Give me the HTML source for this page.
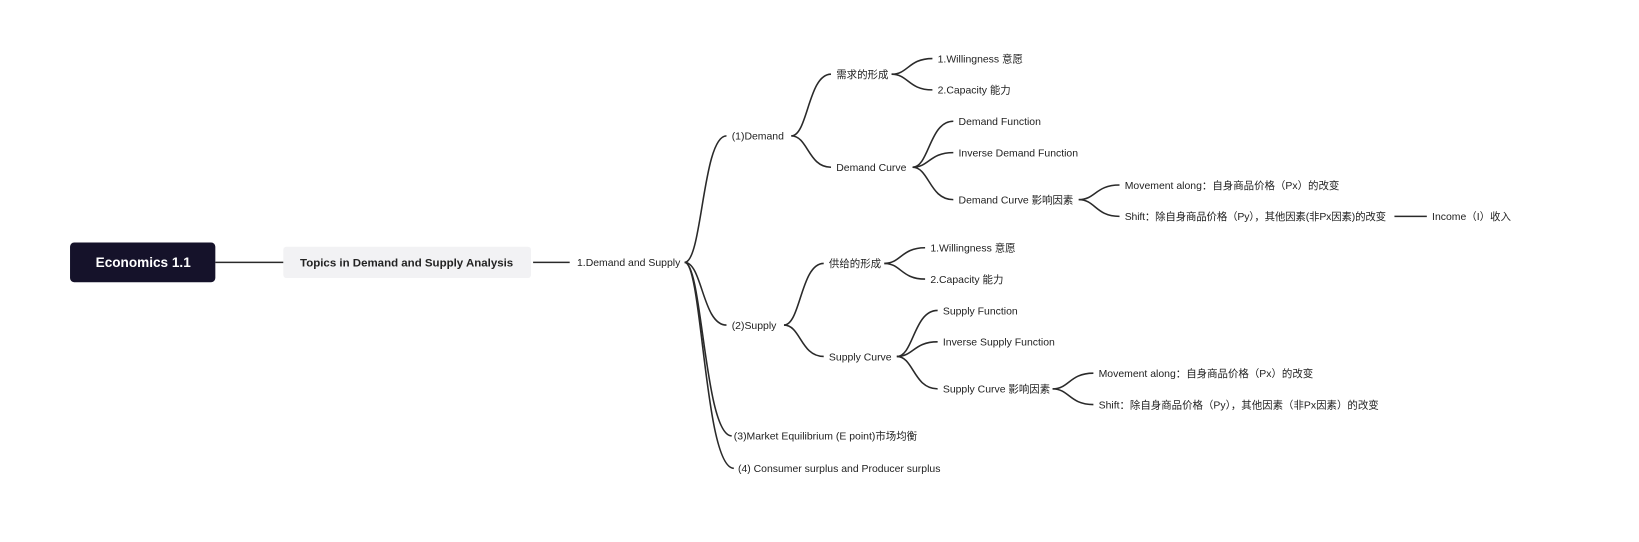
<!DOCTYPE html>
<html><head><meta charset="utf-8"><style>
html,body{margin:0;padding:0;background:#fff;}
svg text{font-family:"Liberation Sans","Noto Sans CJK SC",sans-serif;font-size:10px;fill:#222;dominant-baseline:middle;}
</style></head><body>
<svg width="1639" height="537" viewBox="0 0 1639 537" xmlns="http://www.w3.org/2000/svg">
<g transform="scale(1.0453)">
<g fill="none" stroke="#2a2a2a" stroke-width="1.5">
<line x1="206" y1="251" x2="272" y2="251"/>
<line x1="510" y1="251" x2="545" y2="251"/>
<line x1="1334" y1="207" x2="1365" y2="207"/>
<path d="M655 251 C672 251 672 130 695 130"/>
<path d="M655 251 C672 251 672 311 695 311"/>
<path d="M655 251 C672 251 674 417 700 417"/>
<path d="M655 251 C672 251 674 448 702 448"/>
<path d="M757 130 C773 130 773 71 795 71"/>
<path d="M757 130 C773 130 773 160 795 160"/>
<path d="M853 71 C869 71 869 56 892 56"/>
<path d="M853 71 C869 71 869 86 892 86"/>
<path d="M873 160 C889 160 889 116 912 116"/>
<path d="M873 160 C889 160 889 146 912 146"/>
<path d="M873 160 C889 160 889 191 912 191"/>
<path d="M1032 191 C1048 191 1048 177 1071 177"/>
<path d="M1032 191 C1048 191 1048 207 1071 207"/>
<path d="M750 311 C766 311 766 252 788 252"/>
<path d="M750 311 C766 311 766 341 788 341"/>
<path d="M846 252 C862 252 862 237 885 237"/>
<path d="M846 252 C862 252 862 267 885 267"/>
<path d="M858 341 C874 341 874 297 897 297"/>
<path d="M858 341 C874 341 874 327 897 327"/>
<path d="M858 341 C874 341 874 372 897 372"/>
<path d="M1007 372 C1023 372 1023 357 1046 357"/>
<path d="M1007 372 C1023 372 1023 387 1046 387"/>
</g>
<rect x="67" y="232" width="139" height="38" rx="4" fill="#15122a"/>
<text x="137" y="252" text-anchor="middle" style="fill:#fff;font-size:13px;font-weight:bold">Economics 1.1</text>
<rect x="271" y="236" width="237" height="30" rx="3" fill="#f2f2f4"/>
<text x="389" y="252" text-anchor="middle" style="font-size:11px;font-weight:bold">Topics in Demand and Supply Analysis</text>
<text x="552" y="252">1.Demand and Supply</text>
<text x="700" y="131">(1)Demand</text>
<text x="800" y="72">需求的形成</text>
<text x="897" y="57">1.Willingness 意愿</text>
<text x="897" y="87">2.Capacity 能力</text>
<text x="800" y="161">Demand Curve</text>
<text x="917" y="117">Demand Function</text>
<text x="917" y="147">Inverse Demand Function</text>
<text x="917" y="192">Demand Curve  影响因素</text>
<text x="1076" y="178">Movement along：自身商品价格（Px）的改变</text>
<text x="1076" y="208" textLength="250">Shift：除自身商品价格（Py），其他因素(非Px因素)的改变</text>
<text x="1370" y="208">Income（I）收入</text>
<text x="700" y="312">(2)Supply</text>
<text x="793" y="253">供给的形成</text>
<text x="890" y="238">1.Willingness 意愿</text>
<text x="890" y="268">2.Capacity 能力</text>
<text x="793" y="342">Supply Curve</text>
<text x="902" y="298">Supply Function</text>
<text x="902" y="328">Inverse Supply Function</text>
<text x="902" y="373">Supply Curve 影响因素</text>
<text x="1051" y="358">Movement along：自身商品价格（Px）的改变</text>
<text x="1051" y="388">Shift：除自身商品价格（Py），其他因素（非Px因素）的改变</text>
<text x="702" y="418">(3)Market Equilibrium (E point)市场均衡</text>
<text x="706" y="449">(4)  Consumer surplus and Producer surplus</text>
</g>
</svg>
</body></html>
